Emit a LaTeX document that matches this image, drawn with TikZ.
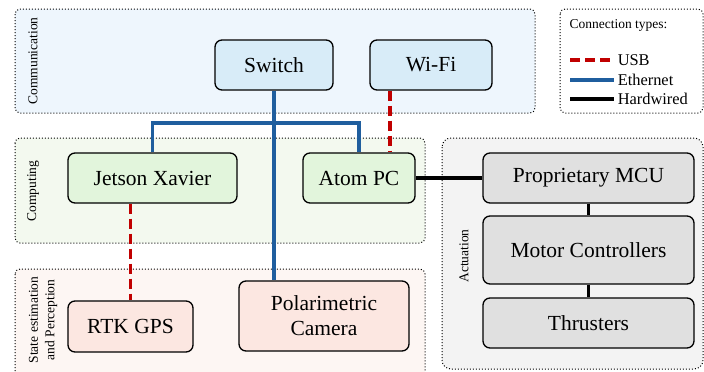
\documentclass[tikz,border=0pt]{standalone}
\usepackage{fontspec}
\setmainfont{Liberation Serif}

\definecolor{commbg}{HTML}{EEF6FD}
\definecolor{commfill}{HTML}{D8ECF8}
\definecolor{compbg}{HTML}{F3F9EF}
\definecolor{compfill}{HTML}{E2F5DC}
\definecolor{statebg}{HTML}{FDF6F3}
\definecolor{statefill}{HTML}{FCE7E1}
\definecolor{actbg}{HTML}{F3F3F3}
\definecolor{actfill}{HTML}{E0E0E0}
\definecolor{ethblue}{HTML}{1F5E9E}
\definecolor{usbred}{HTML}{C00000}

\tikzset{
    unit/.style={draw, line width=1.3pt, rounded corners=7pt, align=center,
        font=\rmfamily\fontsize{21.5}{25}\selectfont, inner sep=0pt},
    group/.style={draw, dotted, line width=1pt, rounded corners=5pt},
    grouplabel/.style={rotate=90, align=center, font=\rmfamily\fontsize{13.5}{16.5}\selectfont},
    usb/.style={usbred, line width=3.5pt, dash pattern=on 10pt off 5pt},
    eth/.style={ethblue, line width=3.5pt},
    wired/.style={black, line width=3.5pt},
}

\begin{document}
\begin{tikzpicture}[x=1pt, y=-1pt]
    \useasboundingbox (0,0) rectangle (704,372);

    % groups
    \draw [group, fill=commbg] (15,9) rectangle (535,113);
    \draw [group, fill=compbg] (15,138) rectangle (425,243);
    \draw [group, fill=statebg] (15,269) rectangle (425,385);
    \draw [group, fill=actbg, rounded corners=9pt] (442,138) rectangle (703,369);
    \draw [group] (560,9) rectangle (703,113);

    \node [grouplabel] (commlabel) at (33,61) {Communication};
    \node [grouplabel] (complabel) at (33,191) {Computing};
    \node [grouplabel] (statelabel) at (43,320) {State estimation\\and Perception};
    \node [grouplabel] (actlabel) at (464,256) {Actuation};

    % units
    \node [unit, fill=commfill, minimum width=118pt, minimum height=50pt] (switch) at (274,65) {Switch};
    \node [unit, fill=commfill, minimum width=122pt, minimum height=50pt] (wifi) at (431,65) {Wi-Fi};
    \node [unit, fill=compfill, minimum width=169pt, minimum height=50pt] (jetson) at (152.5,178) {Jetson Xavier};
    \node [unit, fill=compfill, minimum width=112pt, minimum height=50pt] (atom) at (359,178) {Atom PC};
    \node [unit, fill=statefill, minimum width=125pt, minimum height=51pt] (gps) at (130.5,326.5) {RTK GPS};
    \node [unit, fill=statefill, minimum width=170pt, minimum height=70pt] (camera) at (324,316) {Polarimetric\\Camera};
    \node [unit, fill=actfill, minimum width=211pt, minimum height=50pt] (mcu) at (588.5,178) {Proprietary MCU};
    \node [unit, fill=actfill, minimum width=211pt, minimum height=68pt] (motors) at (588.5,250) {Motor Controllers};
    \node [unit, fill=actfill, minimum width=211pt, minimum height=50pt] (thrusters) at (588.5,323) {Thrusters};

    % connections
    \coordinate (bus) at (274,123);
    \draw [eth] (switch.south) -- (switch.south |- camera.north);
    \draw [eth] (jetson.north) |- (bus) -| (atom.north);
    \draw [usb] ([xshift=-41pt]wifi.south) -- ([xshift=-41pt]wifi.south |- atom.north);
    \draw [usb] (jetson.south -| gps.north) -- (gps.north);
    \draw [wired] (atom.east) -- (mcu.west);
    \draw [wired] (mcu) -- (motors);
    \draw [wired] (motors) -- (thrusters);

    % legend
    \node [anchor=west, font=\rmfamily\fontsize{13.5}{16}\selectfont] (legendtitle) at (566,25) {Connection types:};
    \foreach \y/\kind/\name in {60/usb/USB, 80/eth/Ethernet, 99/wired/Hardwired}
        \draw [\kind] (570,\y) -- ++(44,0) node [right, black, inner sep=2pt, font=\rmfamily\fontsize{16.4}{19}\selectfont] {\name};
\end{tikzpicture}
\end{document}
